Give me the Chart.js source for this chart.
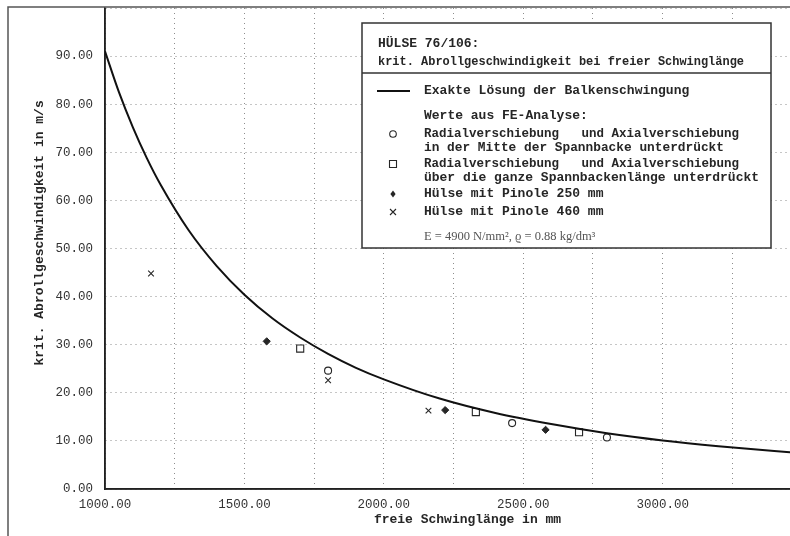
<!DOCTYPE html>
<html>
<head>
<meta charset="utf-8">
<script src="https://cdn.jsdelivr.net/npm/chart.js@4/dist/chart.umd.min.js"></script>
<style>
  html, body { margin: 0; padding: 0; background: #fff; overflow: hidden; }
  #wrap { width: 840px; height: 536px; }
</style>
</head>
<body>
<div id="wrap"><canvas id="c" width="840" height="536"></canvas></div>
<script>
// ---- data ----
const curveLengths = [1000, 1050, 1100, 1150, 1200, 1300, 1400, 1500, 1600, 1700, 1800, 1900, 2000, 2200, 2400, 2600, 2800, 3000, 3200, 3400, 3600];
const curveSpeeds  = [91.0, 82.5, 75.2, 68.8, 63.2, 53.8, 46.4, 40.4, 35.5, 31.5, 28.1, 25.2, 22.8, 18.8, 15.8, 13.5, 11.6, 10.1, 8.9, 7.9, 7.0];

const circleLengths  = [1800, 2460, 2800];
const circleSpeeds   = [24.6, 13.7, 10.7];
const squareLengths  = [1700, 2330, 2700];
const squareSpeeds   = [29.2, 16.0, 11.8];
const diamondLengths = [1580, 2220, 2580];
const diamondSpeeds  = [30.7, 16.4, 12.3];
const crossLengths   = [1165, 1800, 2160];
const crossSpeeds    = [44.8, 22.6, 16.3];

const xTickLabels = [1000, 1500, 2000, 2500, 3000];
const yTickLabels = [0, 10, 20, 30, 40, 50, 60, 70, 80, 90];

const xTitle = 'freie Schwinglänge in mm';
const yTitle = 'krit. Abrollgeschwindigkeit in m/s';

const legendHeader = ['HÜLSE 76/106:', 'krit. Abrollgeschwindigkeit bei freier Schwinglänge'];
const legendLineText = 'Exakte Lösung der Balkenschwingung';
const legendSubHeader = 'Werte aus FE-Analyse:';
const legendCircleText = ['Radialverschiebung   und Axialverschiebung', 'in der Mitte der Spannbacke unterdrückt'];
const legendSquareText = ['Radialverschiebung   und Axialverschiebung', 'über die ganze Spannbackenlänge unterdrückt'];
const legendDiamondText = 'Hülse mit Pinole 250 mm';
const legendCrossText = 'Hülse mit Pinole 460 mm';
const legendFormula = 'E = 4900 N/mm², ϱ = 0.88 kg/dm³';

const pts = (xs, ys) => xs.map((x, i) => ({ x: x, y: ys[i] }));
const ink = '#262626';
const mono = '"Liberation Mono", "DejaVu Sans Mono", monospace';

const framePlugin = {
  id: 'frame',
  beforeDatasetsDraw(chart) {
    const ctx = chart.ctx;
    const a = chart.chartArea;
    ctx.save();
    ctx.setLineDash([]);
    ctx.strokeStyle = '#222';
    ctx.lineWidth = 1.5;
    ctx.beginPath();
    ctx.moveTo(a.left, a.top);
    ctx.lineTo(a.left, a.bottom);
    ctx.lineTo(a.right, a.bottom);
    ctx.stroke();
    ctx.restore();
  },
  afterDraw(chart) {
    const ctx = chart.ctx;
    ctx.save();
    ctx.strokeStyle = '#555';
    ctx.lineWidth = 1.5;
    ctx.beginPath();
    ctx.moveTo(8, 536);
    ctx.lineTo(8, 7);
    ctx.lineTo(chart.width, 7);
    ctx.stroke();
    ctx.restore();
  }
};

function marker(ctx, kind, x, y) {
  ctx.save();
  ctx.strokeStyle = ink;
  ctx.fillStyle = ink;
  ctx.lineWidth = 1.1;
  ctx.beginPath();
  if (kind === 'circle') {
    ctx.arc(x, y, 3.3, 0, Math.PI * 2);
    ctx.stroke();
  } else if (kind === 'square') {
    ctx.rect(x - 3.5, y - 3.5, 7, 7);
    ctx.stroke();
  } else if (kind === 'diamond') {
    ctx.moveTo(x, y - 3.6); ctx.lineTo(x + 2.6, y); ctx.lineTo(x, y + 3.6); ctx.lineTo(x - 2.6, y); ctx.closePath();
    ctx.fill();
  } else if (kind === 'cross') {
    ctx.moveTo(x - 3, y - 3); ctx.lineTo(x + 3, y + 3);
    ctx.moveTo(x + 3, y - 3); ctx.lineTo(x - 3, y + 3);
    ctx.stroke();
  }
  ctx.restore();
}

const legendPlugin = {
  id: 'boxLegend',
  afterDraw(chart) {
    const ctx = chart.ctx;
    const L = 362, T = 23, R = 771, B = 248;
    ctx.save();
    ctx.fillStyle = '#fff';
    ctx.fillRect(L, T, R - L, B - T);
    ctx.strokeStyle = '#333';
    ctx.lineWidth = 1.5;
    ctx.strokeRect(L, T, R - L, B - T);
    ctx.beginPath();
    ctx.moveTo(L, 73); ctx.lineTo(R, 73);
    ctx.stroke();

    ctx.fillStyle = ink;
    ctx.textBaseline = 'middle';
    ctx.textAlign = 'left';
    ctx.font = 'bold 13px ' + mono;
    ctx.fillText(legendHeader[0], 378, 44, 110);
    ctx.fillText(legendHeader[1], 378, 62, 366);

    ctx.strokeStyle = '#111';
    ctx.lineWidth = 2;
    ctx.beginPath();
    ctx.moveTo(377, 91); ctx.lineTo(410, 91);
    ctx.stroke();
    ctx.fillText(legendLineText, 424, 91, 268);

    ctx.fillText(legendSubHeader, 424, 116, 170);
    marker(ctx, 'circle', 393, 134);
    ctx.fillText(legendCircleText[0], 424, 134, 315);
    ctx.fillText(legendCircleText[1], 424, 148, 300);
    marker(ctx, 'square', 393, 164);
    ctx.fillText(legendSquareText[0], 424, 164, 315);
    ctx.fillText(legendSquareText[1], 424, 178, 335);
    marker(ctx, 'diamond', 393, 194);
    ctx.fillText(legendDiamondText, 424, 194, 186);
    marker(ctx, 'cross', 393, 212);
    ctx.fillText(legendCrossText, 424, 212, 186);

    ctx.fillStyle = '#555';
    ctx.font = '12.5px "Liberation Serif", "DejaVu Serif", serif';
    ctx.fillText(legendFormula, 424, 237);
    ctx.restore();
  }
};

new Chart(document.getElementById('c'), {
  type: 'scatter',
  data: {
    datasets: [
      {
        type: 'line',
        label: legendLineText,
        data: pts(curveLengths, curveSpeeds),
        borderColor: '#111',
        borderWidth: 2,
        pointRadius: 0,
        fill: false,
        cubicInterpolationMode: 'monotone'
      },
      {
        label: legendCircleText[0],
        data: pts(circleLengths, circleSpeeds),
        pointStyle: 'circle',
        pointRadius: 3.5,
        borderColor: ink,
        backgroundColor: 'rgba(255,255,255,0)',
        borderWidth: 1.1
      },
      {
        label: legendSquareText[0],
        data: pts(squareLengths, squareSpeeds),
        pointStyle: 'rect',
        pointRadius: 5,
        borderColor: ink,
        backgroundColor: 'rgba(255,255,255,0)',
        borderWidth: 1.1
      },
      {
        label: legendDiamondText,
        data: pts(diamondLengths, diamondSpeeds),
        pointStyle: 'rectRot',
        pointRadius: 3.6,
        borderColor: ink,
        backgroundColor: ink,
        borderWidth: 1
      },
      {
        label: legendCrossText,
        data: pts(crossLengths, crossSpeeds),
        pointStyle: 'crossRot',
        pointRadius: 4,
        borderColor: ink,
        borderWidth: 1.1
      }
    ]
  },
  options: {
    responsive: false,
    animation: false,
    devicePixelRatio: 1,
    layout: { padding: { top: 8, right: 10, left: 0, bottom: 0 } },
    plugins: {
      legend: { display: false },
      tooltip: { enabled: false }
    },
    scales: {
      x: {
        type: 'linear',
        min: 1000,
        max: 3600,
        afterFit(scale) {
          scale.height = 47;
          scale.paddingLeft = 0; scale.paddingRight = 0;
          scale.paddingTop = 0; scale.paddingBottom = 0;
        },
        afterBuildTicks(scale) {
          const t = [];
          for (let v = 1000; v <= 3600; v += 250) t.push({ value: v });
          scale.ticks = t;
        },
        ticks: {
          autoSkip: false,
          maxRotation: 0,
          padding: 8,
          color: '#333',
          font: { family: mono, size: 12.5 },
          callback: (v) => xTickLabels.includes(v) ? v.toFixed(2) : ''
        },
        grid: {
          color: '#8c8c8c',
          lineWidth: 1,
          drawTicks: false
        },
        border: { display: true, color: '#222', width: 1.5, dash: [1, 4] },
        title: {
          display: true,
          text: xTitle,
          color: ink,
          font: { family: mono, size: 13, weight: 'bold' },
          padding: { top: 0, bottom: 8 }
        }
      },
      y: {
        type: 'linear',
        min: 0,
        max: 100,
        afterFit(scale) {
          scale.width = 105;
          scale.paddingTop = 0; scale.paddingBottom = 0;
          scale.paddingLeft = 0; scale.paddingRight = 0;
        },
        ticks: {
          stepSize: 10,
          padding: 12,
          color: '#333',
          font: { family: mono, size: 12.5 },
          callback: (v) => yTickLabels.includes(v) ? v.toFixed(2) : ''
        },
        grid: {
          color: '#8c8c8c',
          lineWidth: 1,
          drawTicks: false
        },
        border: { display: true, color: '#222', width: 1.5, dash: [1, 4] },
        title: {
          display: true,
          text: '    ' + yTitle,
          color: ink,
          font: { family: mono, size: 13, weight: 'bold' },
          padding: { top: 32, bottom: 0 }
        }
      }
    }
  },
  plugins: [framePlugin, legendPlugin]
});
</script>
</body>
</html>
